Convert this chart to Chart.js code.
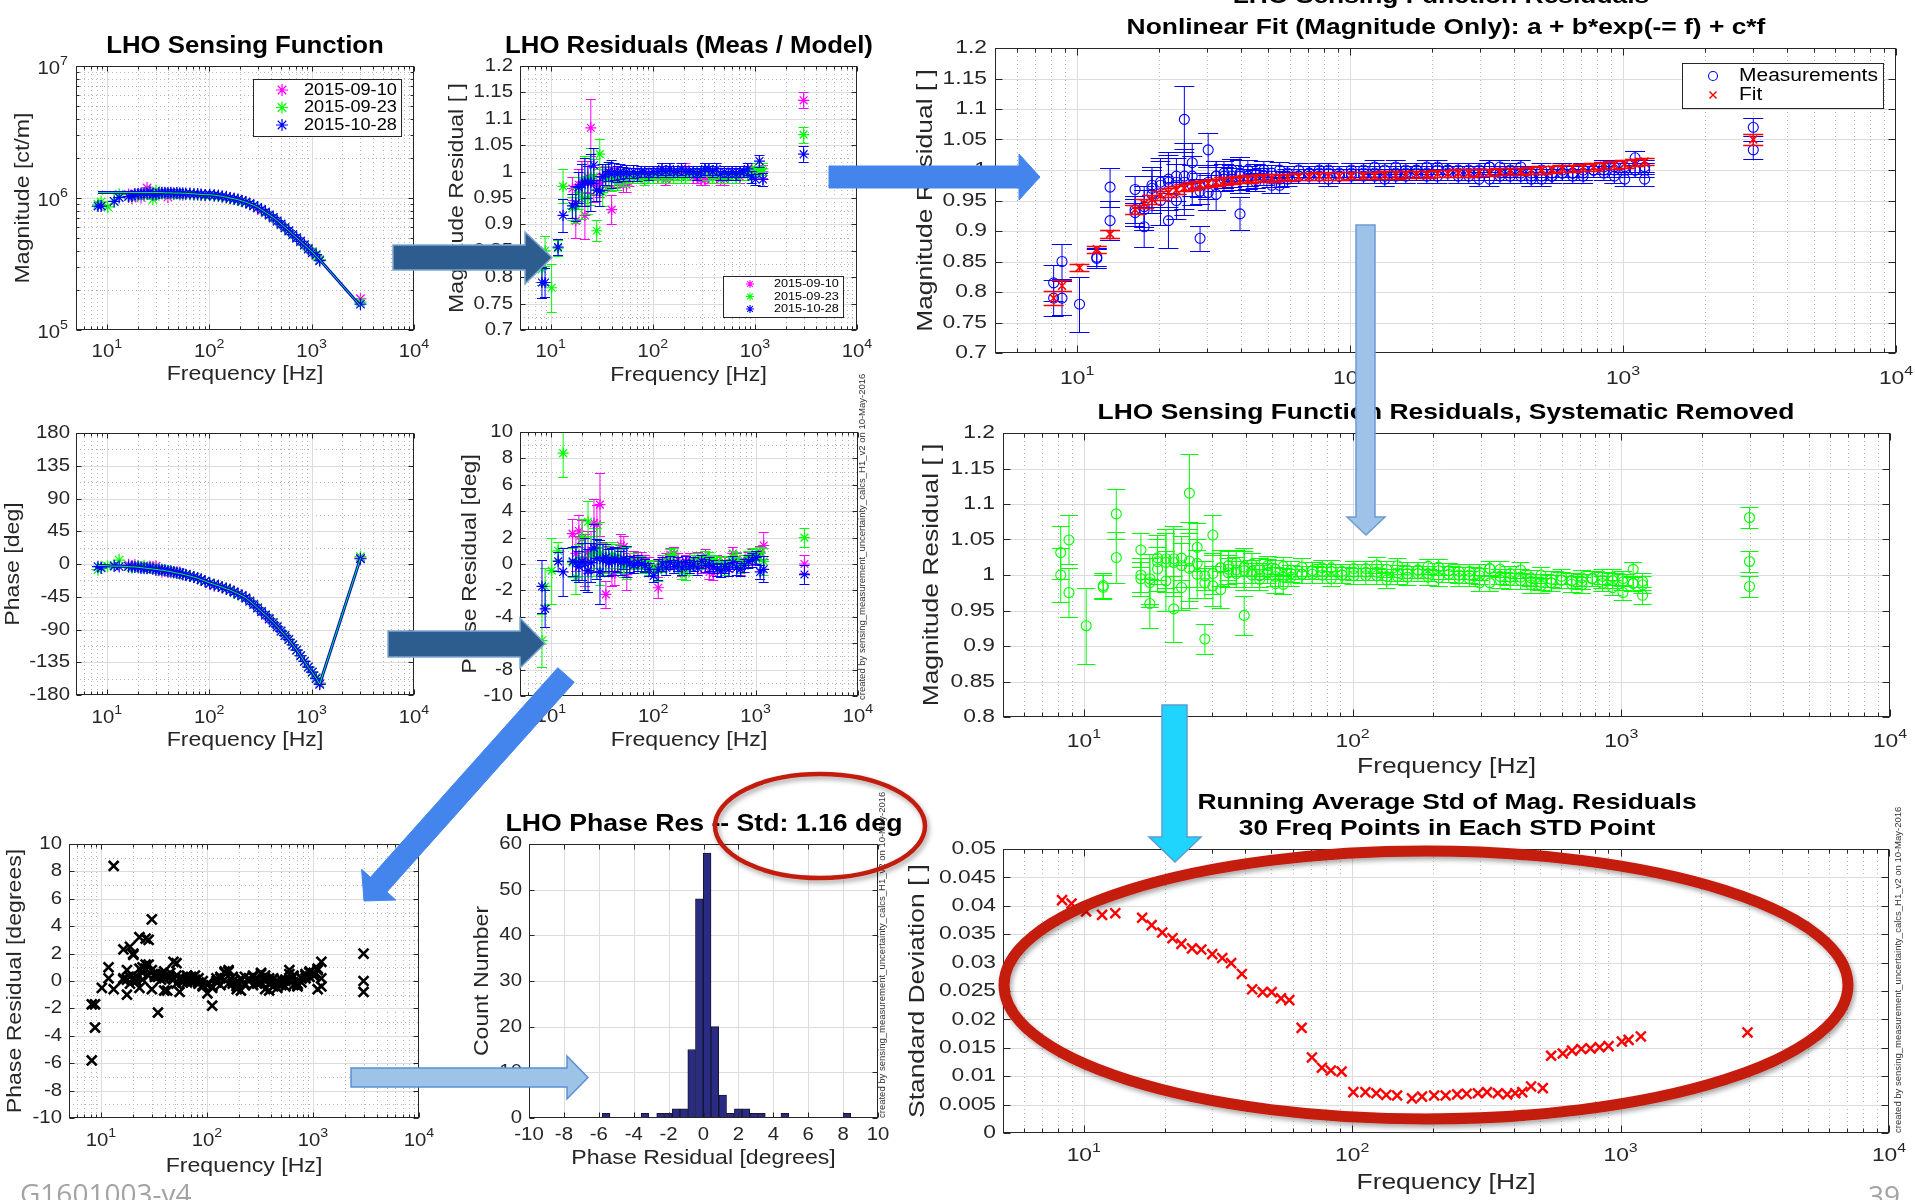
<!DOCTYPE html>
<html lang="en">
<head>
<meta charset="utf-8">
<title>LHO Sensing Function Residuals</title>
<script src="https://cdn.jsdelivr.net/npm/chart.js@4.4.1/dist/chart.umd.min.js"></script>
<style>
  html, body { margin: 0; padding: 0; background: #fff; }
  body { position: relative; width: 1915px; height: 1200px; overflow: hidden; }
  canvas { position: absolute; }
  .stamp { position: absolute; font: 9.5px "Liberation Sans", Arial, sans-serif; line-height: 10px;
           color: #333; white-space: nowrap; transform-origin: 0 0; transform: rotate(-90deg); }
  .foot { position: absolute; font-family: "Open Sans", "Liberation Sans", sans-serif; color: #a3a3a3; line-height: 1; }
  svg.marks { position: absolute; left: 0; top: 0; }
</style>
</head>
<body>
<canvas id="cMag"></canvas>
<canvas id="cMagRes"></canvas>
<canvas id="cFit"></canvas>
<canvas id="cPhase"></canvas>
<canvas id="cPhaseRes"></canvas>
<canvas id="cSys"></canvas>
<canvas id="cPhaseAll"></canvas>
<canvas id="cHist"></canvas>
<canvas id="cStd"></canvas>

<div class="stamp" style="left:857px;top:700px">created by sensing_measurement_uncertainty_calcs_H1_v2 on 10-May-2016</div>
<div class="stamp" style="left:877px;top:1118px">created by sensing_measurement_uncertainty_calcs_H1_v2 on 10-May-2016</div>
<div class="stamp" style="left:1893px;top:1133px">created by sensing_measurement_uncertainty_calcs_H1_v2 on 10-May-2016</div>
<div class="foot" style="left:20px;top:1179px;font-size:28px">G1601003-v4</div>
<div class="foot" style="left:1868px;top:1181px;font-size:28px">39</div>

<svg class="marks" width="1915" height="1200" viewBox="0 0 1915 1200">
  <defs>
    <filter id="shadow" x="-10%" y="-20%" width="120%" height="145%">
      <feDropShadow dx="2" dy="3" stdDeviation="2.5" flood-color="#000" flood-opacity="0.35"/>
    </filter>
  </defs>
  <!-- flow arrows between the panels -->
  <polygon points="393,245 525,245 525,232 552,257.5 525,284 525,270 393,270" fill="#2c5d8e" stroke="#7ea6d3" stroke-width="1.5"/>
  <polygon points="388,631 520,631 520,618 545,643.5 520,668 520,657 388,657" fill="#2c5d8e" stroke="#7ea6d3" stroke-width="1.5"/>
  <polygon points="829,166 1019,166 1019,154 1040,177 1019,200 1019,188 829,188" fill="#4385ec" stroke="#4385ec" stroke-width="1"/>
  <polygon points="1356,225 1375,225 1375,517 1385,517 1366,535 1347,517 1356,517" fill="#9fc2e8" stroke="#6c9bd2" stroke-width="1.5"/>
  <polygon points="1162,705 1187,705 1187,837 1201,837 1175,862 1149,837 1162,837" fill="#1fd5fd" stroke="#5b9bd5" stroke-width="1.5"/>
  <polygon points="557.8,667.7 574.2,682.3 386.9,891.9 395.8,900 364,901 361.6,869.2 370.5,877.3" fill="#4385ec" stroke="#4385ec" stroke-width="1"/>
  <polygon points="351,1068 567,1068 567,1056 588,1077.5 567,1099 567,1087 351,1087" fill="#9dc3e6" stroke="#5b8fd4" stroke-width="1.5"/>
  <!-- highlight rings -->
  <ellipse cx="820" cy="826" rx="105" ry="52" fill="none" stroke="#c21c10" stroke-width="4.5" filter="url(#shadow)"/>
  <ellipse cx="1426" cy="985" rx="422" ry="134" fill="none" stroke="#c41a0b" stroke-width="11" filter="url(#shadow)"/>
</svg>

<script>
// ---------------------------------------------------------------------------
// Measurement frequencies shared by the three sensing-function sweeps [Hz]
const freqHz = [
  8.2, 8.8, 10.2, 11.8, 13.2, 16.3, 17.6, 18.8, 20.2, 21.6,
  23.1, 24.7, 26.4, 28.2, 30.2, 32.3, 34.5, 36.9, 39.5, 42.2,
  45.1, 48.3, 51.6, 55.2, 59.0, 64.8, 70.8, 77.1, 83.3, 91.3,
  101, 112, 123, 134, 147, 160, 175, 191, 209, 228,
  249, 272, 297, 324, 354, 386, 422, 461, 503, 549,
  599, 654, 714, 780, 851, 929, 1014, 1107, 1200, 3000
];

// Sensing function model: magnitude [ct/m] and phase [deg]
const modelMagCtPerM = [
  1.10e6, 1.10e6, 1.10e6, 1.10e6, 1.10e6, 1.10e6, 1.10e6, 1.10e6, 1.10e6, 1.10e6,
  1.10e6, 1.10e6, 1.10e6, 1.10e6, 1.10e6, 1.10e6, 1.10e6, 1.095e6, 1.095e6, 1.095e6,
  1.09e6, 1.09e6, 1.09e6, 1.085e6, 1.085e6, 1.08e6, 1.075e6, 1.07e6, 1.065e6, 1.06e6,
  1.06e6, 1.05e6, 1.04e6, 1.03e6, 1.015e6, 1.0e6, 0.985e6, 0.97e6, 0.95e6, 0.93e6,
  0.905e6, 0.88e6, 0.85e6, 0.815e6, 0.78e6, 0.745e6, 0.71e6, 0.675e6, 0.635e6, 0.60e6,
  0.565e6, 0.53e6, 0.50e6, 0.47e6, 0.44e6, 0.415e6, 0.39e6, 0.365e6, 0.34e6, 0.152e6
];
const modelPhaseDeg = [
  -2, -2, -2.5, -3, -3, -3.5, -4, -4, -4.5, -5,
  -5.5, -6, -6.5, -7, -7.5, -8, -8.5, -9, -10, -10.5,
  -11.5, -12.5, -13, -14, -15, -16.5, -18, -19.5, -21.5, -23.5,
  -26, -28, -30, -32, -34, -36, -38.5, -41, -43.5, -46.5,
  -51, -55.5, -60.5, -65.5, -70, -75, -80.5, -86, -92, -98,
  -104, -111, -118, -126, -134, -142, -149, -157, -165, 8
];

// Magnitude residuals (measurement / model) for each sweep
const magResidual0910 = [
  null, null, null, null, null, 0.968, 0.907, 0.975, 0.98, 0.917,
  0.99, 1.083, 0.975, 0.975, 0.98, 0.99, 0.985, 0.99, 0.928, 0.99,
  0.985, 0.995, 0.975, 0.975, 0.985, 0.99, 0.995, 0.99, 0.995, 0.99,
  0.995, 0.99, 0.995, 0.985, 0.99, 0.995, 1.0, 0.995, 1.005, 1.0,
  0.99, 0.99, 0.985, 0.985, 0.99, 0.995, 0.99, 0.985, 0.985, 0.99,
  0.995, 0.995, 0.99, 1.0, 1.0, 1.005, 1.0, 1.0, 1.0, 1.135
];
const magResidual0923 = [
  0.815, 0.85, 0.78, 0.855, 0.972, 0.930, 0.935, 0.96, 0.95, 0.985,
  0.95, 0.99, 0.99, 0.888, 1.033, 0.96, 0.99, 0.985, 0.99, 0.985,
  0.98, 0.99, 0.985, 0.985, 0.99, 0.99, 0.99, 0.995, 0.985, 0.99,
  0.99, 0.995, 0.99, 0.99, 0.995, 0.99, 0.995, 0.99, 0.99, 0.995,
  0.995, 1.0, 0.995, 1.005, 0.995, 0.99, 0.995, 0.99, 0.99, 0.99,
  0.995, 0.99, 0.995, 1.0, 0.995, 1.0, 1.005, 1.0, 1.005, 1.07
];
const magResidual1028 = [
  0.79, 0.79, null, 0.857, 0.917, 0.935, 0.94, 0.97, 0.975, 0.98,
  0.98, 0.98, 1.012, 0.965, 0.963, 0.99, 0.995, 1.0, 0.995, 1.0,
  0.995, 1.0, 0.995, 1.0, 0.995, 1.0, 0.995, 1.0, 1.0, 0.995,
  1.0, 1.0, 1.005, 1.0, 1.005, 1.0, 1.0, 1.005, 1.0, 1.0,
  1.0, 0.995, 1.0, 1.005, 1.005, 1.0, 1.005, 0.995, 1.0, 0.995,
  1.0, 0.995, 1.0, 1.0, 1.005, 0.99, 0.985, 1.02, 0.985, 1.033
];
// One-sigma magnitude uncertainty (relative)
const magSigma = [
  0.03, 0.028, 0.045, 0.015, 0.032, 0.022, 0.033, 0.03, 0.04, 0.045,
  0.03, 0.054, 0.033, 0.02, 0.028, 0.025, 0.02, 0.018, 0.027, 0.016,
  0.015, 0.014, 0.013, 0.013, 0.012, 0.012, 0.012, 0.011, 0.011, 0.011,
  0.011, 0.011, 0.011, 0.011, 0.011, 0.011, 0.011, 0.011, 0.011, 0.011,
  0.011, 0.011, 0.011, 0.011, 0.011, 0.011, 0.011, 0.011, 0.011, 0.011,
  0.011, 0.011, 0.011, 0.011, 0.011, 0.011, 0.011, 0.011, 0.012, 0.015
];

// Phase residuals (measurement - model) [deg]
const phaseResidual0910 = [
  null, null, null, null, null, 2.3, 0.8, 2.5, 1.9, 0.3,
  0.9, 1.0, 3.1, 3.0, 4.5, 0.5, -2.3, 0.4, -0.7, -0.7,
  0.3, 1.4, 1.3, -0.8, 0.2, 0.4, 0.3, 0.4, 0.2, 0.0,
  -0.3, -1.8, 0.2, 0.3, 0.7, 0.8, 0.3, -0.4, 0.2, 0.3,
  0.0, 0.4, -0.2, 0.6, -0.6, -0.7, 0.2, -0.2, 0.1, 0.0,
  0.8, 0.3, -0.3, 0.2, 0.4, 0.6, 0.4, 0.9, 1.4, 0.0
];
const phaseResidual0923 = [
  -5.8, -1.7, -0.5, 1.0, 8.4, 0.1, -1.0, 0.3, 2.0, 0.0,
  3.2, 0.6, 0.9, 1.2, 0.8, 0.4, 0.3, 0.5, 0.7, 0.3,
  0.6, 0.2, -0.2, 0.1, -0.1, 0.2, -0.1, 0.1, -0.2, -0.3,
  -0.2, -0.5, -0.1, 0.2, 0.6, 0.7, -0.2, -0.6, -0.7, -0.3,
  0.2, 0.3, 0.1, 0.5, 0.4, 0.2, 0.1, 0.0, -0.3, 0.1,
  0.5, 0.4, -0.2, 0.2, 0.5, 0.7, 0.6, 0.8, 0.2, 2.0
];
const phaseResidual1028 = [
  -1.7, -3.4, null, 0.2, -0.6, 0.2, 0.1, -0.2, 0.2, 0.0,
  -0.5, 0.1, 1.2, 0.4, -0.6, 0.3, 0.5, 0.1, 0.2, 0.4,
  0.3, 0.1, 0.4, 0.2, 0.0, -0.1, 0.1, 0.0, -0.1, -0.4,
  -0.9, -0.4, 0.0, -0.3, 0.1, -0.2, 0.0, -0.3, 0.1, -0.2,
  0.0, -0.3, 0.2, -0.1, 0.0, -0.2, -0.4, -0.5, -0.2, -0.4,
  0.1, -0.3, -0.4, -0.1, 0.2, 0.3, 0.5, -0.6, -0.4, -0.8
];
// One-sigma phase uncertainty [deg]
const phaseSigma = [
  2.0, 1.4, 2.5, 0.7, 1.8, 1.1, 1.3, 1.2, 1.4, 2.0,
  1.6, 1.5, 1.8, 1.5, 2.4, 1.2, 1.0, 1.0, 1.0, 0.9,
  0.9, 0.9, 0.8, 1.2, 0.6, 0.6, 0.6, 0.5, 0.5, 0.5,
  0.5, 0.8, 0.5, 0.5, 0.5, 0.5, 0.5, 0.5, 0.5, 0.5,
  0.5, 0.5, 0.5, 0.5, 0.5, 0.5, 0.5, 0.5, 0.5, 0.5,
  0.5, 0.5, 0.5, 0.5, 0.5, 0.5, 0.5, 0.5, 1.0, 0.7
];

// Nonlinear fit a + b*exp(-f) + c*f of the pooled magnitude residuals
const fitMagResidual = [
  0.79, 0.81, 0.84, 0.87, 0.895, 0.935, 0.945, 0.952, 0.958, 0.963,
  0.967, 0.971, 0.974, 0.976, 0.978, 0.98, 0.982, 0.983, 0.984, 0.985,
  0.986, 0.987, 0.987, 0.988, 0.988, 0.989, 0.989, 0.99, 0.99, 0.99,
  0.991, 0.991, 0.991, 0.992, 0.992, 0.993, 0.993, 0.993, 0.994, 0.994,
  0.995, 0.995, 0.996, 0.996, 0.997, 0.998, 0.998, 0.999, 1.0, 1.001,
  1.002, 1.003, 1.004, 1.005, 1.007, 1.008, 1.01, 1.012, 1.014, 1.05
];
const fitSigma = [
  0.011, 0.009, 0.006, 0.006, 0.007, 0.007, 0.007, 0.007, 0.007, 0.007,
  0.006, 0.006, 0.006, 0.006, 0.006, 0.006, 0.006, 0.006, 0.006, 0.006,
  0.006, 0.006, 0.006, 0.006, 0.006, 0.006, 0.006, 0.006, 0.006, 0.006,
  0.006, 0.006, 0.006, 0.006, 0.006, 0.006, 0.006, 0.006, 0.006, 0.006,
  0.006, 0.006, 0.006, 0.006, 0.006, 0.006, 0.006, 0.006, 0.006, 0.006,
  0.006, 0.006, 0.006, 0.006, 0.006, 0.006, 0.006, 0.006, 0.006, 0.009
];

// Histogram of the pooled phase residuals
const histBinCenterDeg = [
  -5.58, -5.13, -4.69, -4.24, -3.80, -3.35, -2.91, -2.46, -2.02, -1.57,
  -1.13, -0.68, -0.24, 0.21, 0.65, 1.10, 1.54, 1.99, 2.43, 2.88,
  3.32, 3.77, 4.21, 4.66, 5.10, 5.55, 5.99, 6.44, 6.88, 7.33,
  7.77, 8.22
];
const histCount = [
  1, 0, 0, 0, 0, 1, 0, 1, 1, 2,
  2, 15, 48, 58, 20, 5, 1, 2, 2, 1,
  1, 0, 0, 1, 0, 0, 0, 0, 0, 0,
  0, 1
];

// Running standard deviation of the systematic-removed residuals (30-point window)
const stdFreqHz = [
  8.3, 9.0, 10.2, 11.7, 13.1, 16.5, 17.9, 19.6, 21.4, 23.1,
  25.3, 27.4, 30.1, 32.8, 35.4, 38.8, 42.4, 46.4, 50.1, 54.3,
  58.3, 64.8, 70.8, 77.1, 83.3, 91.3, 101, 112, 123, 134,
  147, 167, 182, 202, 223, 246, 267, 294, 318, 349,
  378, 405, 430, 464, 513, 551, 609, 659, 714, 772,
  835, 902, 1011, 1071, 1190, 2970
];
const stdMagResidual = [
  0.0410, 0.0404, 0.0390, 0.0384, 0.0387, 0.0379, 0.0366, 0.0353, 0.0343, 0.0333,
  0.0325, 0.0323, 0.0315, 0.0308, 0.0299, 0.0280, 0.0253, 0.0248, 0.0248, 0.0237,
  0.0234, 0.0185, 0.0133, 0.0115, 0.0110, 0.0108, 0.0072, 0.0072, 0.0070, 0.0067,
  0.0066, 0.0061, 0.0064, 0.0066, 0.0066, 0.0068, 0.0069, 0.0070, 0.0072, 0.0070,
  0.0068, 0.0070, 0.0072, 0.0082, 0.0079, 0.0136, 0.0140, 0.0145, 0.0148, 0.0149,
  0.0151, 0.0153, 0.0161, 0.0164, 0.0170, 0.0177
];

// Tick values and labels
const decadeHz = [10, 100, 1000, 10000];
const decadeExp = ['1', '2', '3', '4'];
const magTicks = [1e5, 1e6, 1e7];
const magTickExp = ['5', '6', '7'];
const resTicks = [0.7, 0.75, 0.8, 0.85, 0.9, 0.95, 1, 1.05, 1.1, 1.15, 1.2];
const resTickText = ['0.7', '0.75', '0.8', '0.85', '0.9', '0.95', '1', '1.05', '1.1', '1.15', '1.2'];
const sysTicks = [0.8, 0.85, 0.9, 0.95, 1, 1.05, 1.1, 1.15, 1.2];
const sysTickText = ['0.8', '0.85', '0.9', '0.95', '1', '1.05', '1.1', '1.15', '1.2'];
const phaseTicks = [-180, -135, -90, -45, 0, 45, 90, 135, 180];
const phaseTickText = ['-180', '-135', '-90', '-45', '0', '45', '90', '135', '180'];
const degTicks = [-10, -8, -6, -4, -2, 0, 2, 4, 6, 8, 10];
const degTickText = ['-10', '-8', '-6', '-4', '-2', '0', '2', '4', '6', '8', '10'];
const countTicks = [0, 10, 20, 30, 40, 50, 60];
const countTickText = ['0', '10', '20', '30', '40', '50', '60'];
const stdTicks = [0, 0.005, 0.01, 0.015, 0.02, 0.025, 0.03, 0.035, 0.04, 0.045, 0.05];
const stdTickText = ['0', '0.005', '0.01', '0.015', '0.02', '0.025', '0.03', '0.035', '0.04', '0.045', '0.05'];

const sweeps = [
  { label: '2015-09-10', color: '#ff00ff', mag: magResidual0910, phase: phaseResidual0910 },
  { label: '2015-09-23', color: '#00ff00', mag: magResidual0923, phase: phaseResidual0923 },
  { label: '2015-10-28', color: '#0000ff', mag: magResidual1028, phase: phaseResidual1028 }
];

// ---------------------------------------------------------------------------
const FONT = '"Liberation Sans", Arial, Helvetica, sans-serif';
const INK = '#262626';
const LEFT = { tick: 18.5, lab: 21, title: 23, sx: 1.1, tsx: 1.12, major: 5, minor: 3 };
const RIGHT = { tick: 19, lab: 22, title: 22, sx: 1.2, tsx: 1.2, major: 7, minor: 4 };

function logMinor(lo, hi) {
  const out = [];
  for (let d = 1; d <= 1e7; d *= 10) {
    for (let m = 2; m <= 9; m++) { const v = m * d; if (v > lo && v < hi) out.push(v); }
  }
  return out;
}
function midpoints(vals) {
  const out = [];
  for (let i = 0; i + 1 < vals.length; i++) out.push((vals[i] + vals[i + 1]) / 2);
  return out;
}

function drawText(ctx, s, x, y, f) {
  ctx.save();
  ctx.translate(x, y);
  if (f.rot) ctx.rotate(f.rot);
  ctx.scale(f.sx || 1, 1);
  ctx.font = (f.bold ? 'bold ' : '') + f.size + 'px ' + FONT;
  ctx.fillStyle = f.color || INK;
  ctx.textAlign = f.align || 'center';
  ctx.textBaseline = 'middle';
  ctx.fillText(s, 0, 0);
  ctx.restore();
}
function drawPow(ctx, exp, x, y, size, sx, align) {
  ctx.save();
  ctx.translate(x, y);
  ctx.scale(sx, 1);
  const base = size + 'px ' + FONT, sup = (size * 0.7).toFixed(1) + 'px ' + FONT;
  ctx.font = base; const wb = ctx.measureText('10').width;
  ctx.font = sup; const we = ctx.measureText(exp).width;
  const x0 = align === 'right' ? -(wb + we) : -(wb + we) / 2;
  ctx.fillStyle = INK; ctx.textAlign = 'left'; ctx.textBaseline = 'middle';
  ctx.font = base; ctx.fillText('10', x0, 0);
  ctx.font = sup; ctx.fillText(exp, x0 + wb, -size * 0.42);
  ctx.restore();
}
function drawMarker(ctx, style, x, y, r, color, lw) {
  ctx.save();
  ctx.strokeStyle = color; ctx.lineWidth = lw;
  ctx.beginPath();
  if (style === 'circle') {
    ctx.arc(x, y, r, 0, Math.PI * 2);
  } else {
    const arms = style === 'star' ? [0, 1, 2, 3] : [1, 3];
    for (const q of arms) {
      const a = q * Math.PI / 4, dx = Math.cos(a) * r, dy = Math.sin(a) * r;
      ctx.moveTo(x - dx, y - dy); ctx.lineTo(x + dx, y + dy);
    }
  }
  ctx.stroke();
  ctx.restore();
}

// MATLAB-style axes: dotted minor grid, inward ticks on all sides, boxed plot,
// tick labels, axis titles, legend and per-dataset error bars.
function matlabAxes(s) {
  const crisp = v => Math.round(v) + 0.5;
  return {
    id: 'matlabAxes',
    beforeDatasetsDraw(chart) {
      const { ctx, chartArea: a } = chart, X = chart.scales.x, Y = chart.scales.y;
      ctx.save();
      ctx.beginPath(); ctx.rect(a.left, a.top, a.right - a.left, a.bottom - a.top); ctx.clip();
      ctx.lineWidth = 1;
      ctx.setLineDash([1, 3]); ctx.strokeStyle = '#b8b8b8';
      ctx.beginPath();
      if (s.xMinorGrid) s.xMinor.forEach(v => { const x = crisp(X.getPixelForValue(v)); ctx.moveTo(x, a.top); ctx.lineTo(x, a.bottom); });
      if (s.yMinorGrid) s.yMinor.forEach(v => { const y = crisp(Y.getPixelForValue(v)); ctx.moveTo(a.left, y); ctx.lineTo(a.right, y); });
      ctx.stroke();
      ctx.setLineDash([]); ctx.strokeStyle = '#dcdcdc';
      ctx.beginPath();
      s.xMajor.forEach(v => { const x = crisp(X.getPixelForValue(v)); ctx.moveTo(x, a.top); ctx.lineTo(x, a.bottom); });
      s.yMajor.forEach(v => { const y = crisp(Y.getPixelForValue(v)); ctx.moveTo(a.left, y); ctx.lineTo(a.right, y); });
      ctx.stroke();
      ctx.restore();
    },
    beforeDatasetDraw(chart, args) {
      const ds = chart.data.datasets[args.index];
      if (!ds.yErr) return;
      const { ctx, chartArea: a } = chart, X = chart.scales.x, Y = chart.scales.y;
      const half = (ds.capWidth || 10) / 2;
      ctx.save();
      ctx.beginPath(); ctx.rect(a.left, a.top, a.right - a.left, a.bottom - a.top); ctx.clip();
      ctx.strokeStyle = ds.borderColor; ctx.lineWidth = ds.errWidth || 1;
      ctx.beginPath();
      ds.data.forEach((p, j) => {
        const e = ds.yErr[j];
        if (p.y === null || e === null || e === undefined) return;
        const x = X.getPixelForValue(p.x);
        const y1 = Math.round(Y.getPixelForValue(p.y - e)) + 0.5, y2 = Math.round(Y.getPixelForValue(p.y + e)) + 0.5;
        ctx.moveTo(x, y1); ctx.lineTo(x, y2);
        ctx.moveTo(x - half, y1); ctx.lineTo(x + half, y1);
        ctx.moveTo(x - half, y2); ctx.lineTo(x + half, y2);
      });
      ctx.stroke();
      ctx.restore();
    },
    afterDatasetsDraw(chart) {
      const { ctx, chartArea: a } = chart, X = chart.scales.x, Y = chart.scales.y, f = s.f;
      const L = Math.round(a.left) + 0.5, R = Math.round(a.right) - 0.5;
      const T = Math.round(a.top) + 0.5, B = Math.round(a.bottom) - 0.5;
      ctx.save();
      ctx.strokeStyle = INK; ctx.lineWidth = 1;
      ctx.strokeRect(L, T, R - L, B - T);
      ctx.beginPath();
      const xt = (v, len) => { const x = crisp(X.getPixelForValue(v)); ctx.moveTo(x, B); ctx.lineTo(x, B - len); ctx.moveTo(x, T); ctx.lineTo(x, T + len); };
      const yt = (v, len) => { const y = crisp(Y.getPixelForValue(v)); ctx.moveTo(L, y); ctx.lineTo(L + len, y); ctx.moveTo(R, y); ctx.lineTo(R - len, y); };
      s.xMajor.forEach(v => xt(v, f.major));
      if (s.xMinorTicks) s.xMinor.forEach(v => xt(v, f.minor));
      s.yMajor.forEach(v => yt(v, f.major));
      if (s.yMinorTicks) s.yMinor.forEach(v => yt(v, f.minor));
      ctx.stroke();
      ctx.restore();

      // tick labels
      s.xMajor.forEach((v, i) => {
        const x = X.getPixelForValue(v), y = a.bottom + s.xDy;
        if (s.xExp) drawPow(ctx, s.xExp[i], x, y, f.tick, f.sx, 'center');
        else drawText(ctx, s.xText[i], x, y, { size: f.tick, sx: f.sx });
      });
      s.yMajor.forEach((v, i) => {
        const x = a.left - s.yGap, y = Y.getPixelForValue(v);
        if (s.yExp) drawPow(ctx, s.yExp[i], x, y + 3, f.tick, f.sx, 'right');
        else drawText(ctx, s.yText[i], x, y, { size: f.tick, sx: f.sx, align: 'right' });
      });

      // titles and axis labels (page coordinates)
      (s.texts || []).forEach(t => drawText(ctx, t.t, t.x - s.ox, t.y - s.oy, t));

      // legend
      const lg = s.legend;
      if (lg) {
        ctx.save();
        ctx.fillStyle = '#fff'; ctx.strokeStyle = INK; ctx.lineWidth = 1;
        const bx = Math.round(lg.l - s.ox) + 0.5, by = Math.round(lg.t - s.oy) + 0.5;
        ctx.fillRect(bx, by, lg.r - lg.l, lg.b - lg.t);
        ctx.strokeRect(bx, by, lg.r - lg.l, lg.b - lg.t);
        ctx.restore();
        lg.rows.forEach(r => {
          drawMarker(ctx, r.style, lg.mx - s.ox, r.y - s.oy, r.radius, r.color, r.width);
          drawText(ctx, r.label, lg.tx - s.ox, r.y - s.oy, { size: lg.size, sx: lg.sx, align: 'left', color: '#000' });
        });
      }
    }
  };
}

function makeChart(id, box, plot, scales, datasets, spec, type) {
  const cv = document.getElementById(id);
  cv.width = box.w; cv.height = box.h;
  cv.style.left = box.x + 'px'; cv.style.top = box.y + 'px';
  cv.style.width = box.w + 'px'; cv.style.height = box.h + 'px';
  spec.ox = box.x; spec.oy = box.y;
  return new Chart(cv, {
    type: type || 'scatter',
    data: { datasets },
    options: {
      responsive: false, animation: false, devicePixelRatio: 1, events: [],
      layout: { padding: { left: plot.l - box.x, top: plot.t - box.y, right: box.x + box.w - plot.r, bottom: box.y + box.h - plot.b } },
      scales: { x: Object.assign({ display: false, offset: false }, scales.x), y: Object.assign({ display: false, offset: false }, scales.y) },
      plugins: { legend: { display: false }, tooltip: { enabled: false } }
    },
    plugins: [matlabAxes(spec)]
  });
}

const xFreq = { type: 'logarithmic', min: 5, max: 10000 };
const freqMinor = logMinor(5, 10000);

function starSet(label, color, pts, err, radius, cap) {
  return { label, data: pts, yErr: err, capWidth: cap, borderColor: color, backgroundColor: 'rgba(0,0,0,0)',
           pointStyle: 'star', pointRadius: radius, pointBorderWidth: 1.2, showLine: false };
}
function lineSet(color, pts, width) {
  return { data: pts, borderColor: color, borderWidth: width, pointRadius: 0, showLine: true, fill: false };
}
function pooled(kind, sigma, divisor) {
  const pts = [], err = [];
  sweeps.forEach(sw => sw[kind].forEach((v, i) => {
    if (v === null) return;
    const k = divisor ? divisor[i] : 1;
    pts.push({ x: freqHz[i], y: v / k });
    err.push(sigma ? sigma[i] / k : null);
  }));
  return { pts, err };
}

// ---- Panel: sensing function magnitude ----
(function () {
  const modelPts = freqHz.map((f, i) => ({ x: f, y: modelMagCtPerM[i] }));
  const stars = sweeps.map(sw => starSet(sw.label, sw.color,
    freqHz.map((f, i) => ({ x: f, y: sw.mag[i] === null ? null : modelMagCtPerM[i] * sw.mag[i] })), null, 6));
  makeChart('cMag', { x: 0, y: 0, w: 440, h: 395 }, { l: 76, t: 66, r: 414, b: 330 },
    { x: xFreq, y: { type: 'logarithmic', min: 1e5, max: 1e7 } },
    [lineSet('#00ff00', modelPts, 1), lineSet('#0000ff', modelPts, 3), stars[2], stars[1], stars[0]],
    {
      f: LEFT, xDy: 22, yGap: 8,
      xMajor: decadeHz, xExp: decadeExp, xMinor: freqMinor, xMinorGrid: true, xMinorTicks: true,
      yMajor: magTicks, yExp: magTickExp, yMinor: logMinor(1e5, 1e7), yMinorGrid: true, yMinorTicks: true,
      texts: [
        { t: 'LHO Sensing Function', x: 245, y: 47, size: LEFT.title, sx: LEFT.tsx, bold: true, color: '#000' },
        { t: 'Frequency [Hz]', x: 245, y: 374, size: LEFT.lab, sx: LEFT.sx },
        { t: 'Magnitude [ct/m]', x: 23, y: 198, size: LEFT.lab, sx: LEFT.sx, rot: -Math.PI / 2 }
      ],
      legend: { l: 253, t: 79, r: 401, b: 136, mx: 282, tx: 304, size: 16.5, sx: 1.1,
        rows: sweeps.map((sw, i) => ({ label: sw.label, color: sw.color, style: 'star', radius: 6, width: 1.2, y: 90 + 17.5 * i })) }
    });
})();

// ---- Panel: magnitude residuals ----
(function () {
  const stars = sweeps.map(sw => starSet(sw.label, sw.color,
    freqHz.map((f, i) => ({ x: f, y: sw.mag[i] })), magSigma, 5.5, 10));
  makeChart('cMagRes', { x: 440, y: 0, w: 440, h: 395 }, { l: 520, t: 66, r: 857, b: 330 },
    { x: xFreq, y: { type: 'linear', min: 0.7, max: 1.2 } },
    [stars[2], stars[1], stars[0]],
    {
      f: LEFT, xDy: 22, yGap: 7,
      xMajor: decadeHz, xExp: decadeExp, xMinor: freqMinor, xMinorGrid: true, xMinorTicks: true,
      yMajor: resTicks, yText: resTickText, yMinor: midpoints(resTicks), yMinorGrid: true,
      texts: [
        { t: 'LHO Residuals (Meas / Model)', x: 689, y: 47, size: LEFT.title, sx: LEFT.tsx, bold: true, color: '#000' },
        { t: 'Frequency [Hz]', x: 688.5, y: 375, size: LEFT.lab, sx: LEFT.sx },
        { t: 'Magnitude Residual [ ]', x: 457, y: 198, size: LEFT.lab, sx: LEFT.sx, rot: -Math.PI / 2 }
      ],
      legend: { l: 723, t: 276, r: 843, b: 317, mx: 750, tx: 774, size: 11.5, sx: 1.1,
        rows: sweeps.map((sw, i) => ({ label: sw.label, color: sw.color, style: 'star', radius: 4, width: 1.1, y: 284 + 12.5 * i })) }
    });
})();

// ---- Panel: nonlinear fit of the pooled magnitude residuals ----
(function () {
  const meas = pooled('mag', magSigma, null);
  const fitSet = { label: 'Fit', data: freqHz.map((f, i) => ({ x: f, y: fitMagResidual[i] })), yErr: fitSigma, capWidth: 20,
    borderColor: '#ff0000', backgroundColor: 'rgba(0,0,0,0)', pointStyle: 'crossRot', pointRadius: 5.5, pointBorderWidth: 1.6, errWidth: 1.4 };
  const measSet = { label: 'Measurements', data: meas.pts, yErr: meas.err, capWidth: 20,
    borderColor: '#0000ff', backgroundColor: 'rgba(0,0,0,0)', pointStyle: 'circle', pointRadius: 5, pointBorderWidth: 1.1 };
  makeChart('cFit', { x: 880, y: 0, w: 1035, h: 392 }, { l: 995, t: 48, r: 1896, b: 353 },
    { x: xFreq, y: { type: 'linear', min: 0.7, max: 1.2 } },
    [fitSet, measSet],
    {
      f: RIGHT, xDy: 26, yGap: 8,
      xMajor: decadeHz, xExp: decadeExp, xMinor: freqMinor, xMinorGrid: true, xMinorTicks: true,
      yMajor: resTicks, yText: resTickText, yMinor: [],
      texts: [
        { t: 'LHO Sensing Function Residuals', x: 1441, y: -3, size: RIGHT.title, sx: RIGHT.tsx, bold: true, color: '#000' },
        { t: 'Nonlinear Fit (Magnitude Only): a + b*exp(-= f) + c*f', x: 1446, y: 28, size: RIGHT.title, sx: RIGHT.tsx, bold: true, color: '#000' },
        { t: 'Magnitude Residual [ ]', x: 926, y: 200.5, size: RIGHT.lab, sx: RIGHT.sx, rot: -Math.PI / 2 }
      ],
      legend: { l: 1682, t: 63, r: 1883, b: 108, mx: 1713, tx: 1739, size: 17.5, sx: 1.2,
        rows: [
          { label: 'Measurements', color: '#0000ff', style: 'circle', radius: 4.5, width: 1.1, y: 76 },
          { label: 'Fit', color: '#ff0000', style: 'crossRot', radius: 5, width: 1.4, y: 95 }
        ] }
    });
})();

// ---- Panel: sensing function phase ----
(function () {
  const modelPts = freqHz.map((f, i) => ({ x: f, y: modelPhaseDeg[i] }));
  const stars = sweeps.map(sw => starSet(sw.label, sw.color,
    freqHz.map((f, i) => ({ x: f, y: sw.phase[i] === null ? null : modelPhaseDeg[i] + sw.phase[i] })), null, 6));
  makeChart('cPhase', { x: 0, y: 395, w: 440, h: 365 }, { l: 76, t: 433, r: 414, b: 695 },
    { x: xFreq, y: { type: 'linear', min: -180, max: 180 } },
    [lineSet('#00ff00', modelPts, 1), lineSet('#0000ff', modelPts, 3), stars[2], stars[1], stars[0]],
    {
      f: LEFT, xDy: 23, yGap: 6,
      xMajor: decadeHz, xExp: decadeExp, xMinor: freqMinor, xMinorGrid: true, xMinorTicks: true,
      yMajor: phaseTicks, yText: phaseTickText, yMinor: midpoints(phaseTicks), yMinorGrid: true,
      texts: [
        { t: 'Frequency [Hz]', x: 245, y: 740, size: LEFT.lab, sx: LEFT.sx },
        { t: 'Phase [deg]', x: 13, y: 564, size: LEFT.lab, sx: LEFT.sx, rot: -Math.PI / 2 }
      ]
    });
})();

// ---- Panel: phase residuals ----
(function () {
  const stars = sweeps.map(sw => starSet(sw.label, sw.color,
    freqHz.map((f, i) => ({ x: f, y: sw.phase[i] })), phaseSigma, 5.5, 10));
  makeChart('cPhaseRes', { x: 440, y: 395, w: 440, h: 365 }, { l: 520, t: 432, r: 858, b: 696 },
    { x: xFreq, y: { type: 'linear', min: -10, max: 10 } },
    [stars[2], stars[1], stars[0]],
    {
      f: LEFT, xDy: 21, yGap: 7,
      xMajor: decadeHz, xExp: decadeExp, xMinor: freqMinor, xMinorGrid: true, xMinorTicks: true,
      yMajor: degTicks, yText: degTickText, yMinor: midpoints(degTicks), yMinorGrid: true,
      texts: [
        { t: 'Frequency [Hz]', x: 689, y: 740, size: LEFT.lab, sx: LEFT.sx },
        { t: 'Phase Residual [deg]', x: 470, y: 564, size: LEFT.lab, sx: LEFT.sx, rot: -Math.PI / 2 }
      ]
    });
})();

// ---- Panel: residuals with the fitted systematic removed ----
(function () {
  const sys = pooled('mag', magSigma, fitMagResidual);
  const set = { label: 'Residual', data: sys.pts, yErr: sys.err, capWidth: 18,
    borderColor: '#00ff00', backgroundColor: 'rgba(0,0,0,0)', pointStyle: 'circle', pointRadius: 5, pointBorderWidth: 1.1 };
  makeChart('cSys', { x: 880, y: 392, w: 1035, h: 390 }, { l: 1003, t: 433, r: 1890, b: 717 },
    { x: xFreq, y: { type: 'linear', min: 0.8, max: 1.2 } },
    [set],
    {
      f: RIGHT, xDy: 25, yGap: 8,
      xMajor: decadeHz, xExp: decadeExp, xMinor: freqMinor, xMinorGrid: true, xMinorTicks: true,
      yMajor: sysTicks, yText: sysTickText, yMinor: [],
      texts: [
        { t: 'LHO Sensing Function Residuals, Systematic Removed', x: 1446, y: 413, size: RIGHT.title, sx: RIGHT.tsx, bold: true, color: '#000' },
        { t: 'Frequency [Hz]', x: 1446.5, y: 767, size: RIGHT.lab, sx: RIGHT.sx },
        { t: 'Magnitude Residual [ ]', x: 932, y: 575, size: RIGHT.lab, sx: RIGHT.sx, rot: -Math.PI / 2 }
      ]
    });
})();

// ---- Panel: pooled phase residuals ----
(function () {
  const all = pooled('phase', null, null);
  const set = { label: 'Phase residual', data: all.pts, borderColor: '#000000', backgroundColor: 'rgba(0,0,0,0)',
    pointStyle: 'crossRot', pointRadius: 7, pointBorderWidth: 2.6 };
  makeChart('cPhaseAll', { x: 0, y: 760, w: 460, h: 440 }, { l: 69, t: 844, r: 419, b: 1118 },
    { x: xFreq, y: { type: 'linear', min: -10, max: 10 } },
    [set],
    {
      f: LEFT, xDy: 23, yGap: 7,
      xMajor: decadeHz, xExp: decadeExp, xMinor: freqMinor, xMinorGrid: true, xMinorTicks: true,
      yMajor: degTicks, yText: degTickText, yMinor: midpoints(degTicks), yMinorGrid: true,
      texts: [
        { t: 'Frequency [Hz]', x: 244, y: 1166, size: LEFT.lab, sx: LEFT.sx },
        { t: 'Phase Residual [degrees]', x: 15, y: 981, size: LEFT.lab, sx: LEFT.sx, rot: -Math.PI / 2 }
      ]
    });
})();

// ---- Panel: histogram of phase residuals ----
(function () {
  const set = { label: 'Count', data: histBinCenterDeg.map((c, i) => ({ x: c, y: histCount[i] })),
    backgroundColor: '#2a2b82', borderColor: '#161633', borderWidth: 1, borderSkipped: false,
    barPercentage: 1, categoryPercentage: 1 };
  makeChart('cHist', { x: 460, y: 760, w: 450, h: 440 }, { l: 529, t: 844, r: 878, b: 1118 },
    { x: { type: 'linear', min: -10, max: 10, offset: false }, y: { type: 'linear', min: 0, max: 60 } },
    [set],
    {
      f: LEFT, xDy: 17, yGap: 7,
      xMajor: degTicks, xText: degTickText, xMinor: [],
      yMajor: countTicks, yText: countTickText, yMinor: [],
      texts: [
        { t: 'LHO Phase Res -- Std: 1.16 deg', x: 704, y: 824, size: 23.8, sx: 1.12, bold: true, color: '#000' },
        { t: 'Phase Residual [degrees]', x: 703.5, y: 1158, size: LEFT.lab, sx: LEFT.sx },
        { t: 'Count Number', x: 482, y: 981, size: LEFT.lab, sx: LEFT.sx, rot: -Math.PI / 2 }
      ]
    }, 'bar');
})();

// ---- Panel: running standard deviation ----
(function () {
  const set = { label: 'Std', data: stdFreqHz.map((f, i) => ({ x: f, y: stdMagResidual[i] })),
    borderColor: '#ff0000', backgroundColor: 'rgba(0,0,0,0)', pointStyle: 'crossRot', pointRadius: 7, pointBorderWidth: 2.4 };
  makeChart('cStd', { x: 900, y: 782, w: 1015, h: 418 }, { l: 1003, t: 849, r: 1889, b: 1133 },
    { x: xFreq, y: { type: 'linear', min: 0, max: 0.05 } },
    [set],
    {
      f: RIGHT, xDy: 23, yGap: 7,
      xMajor: decadeHz, xExp: decadeExp, xMinor: freqMinor, xMinorGrid: true, xMinorTicks: true,
      yMajor: stdTicks, yText: stdTickText, yMinor: [],
      texts: [
        { t: 'Running Average Std of Mag. Residuals', x: 1447, y: 803, size: RIGHT.title, sx: RIGHT.tsx, bold: true, color: '#000' },
        { t: '30 Freq Points in Each STD Point', x: 1447, y: 829, size: RIGHT.title, sx: RIGHT.tsx, bold: true, color: '#000' },
        { t: 'Frequency [Hz]', x: 1446, y: 1183, size: RIGHT.lab, sx: RIGHT.sx },
        { t: 'Standard Deviation [ ]', x: 918, y: 991, size: RIGHT.lab, sx: RIGHT.sx, rot: -Math.PI / 2 }
      ]
    });
})();
</script>
</body>
</html>
